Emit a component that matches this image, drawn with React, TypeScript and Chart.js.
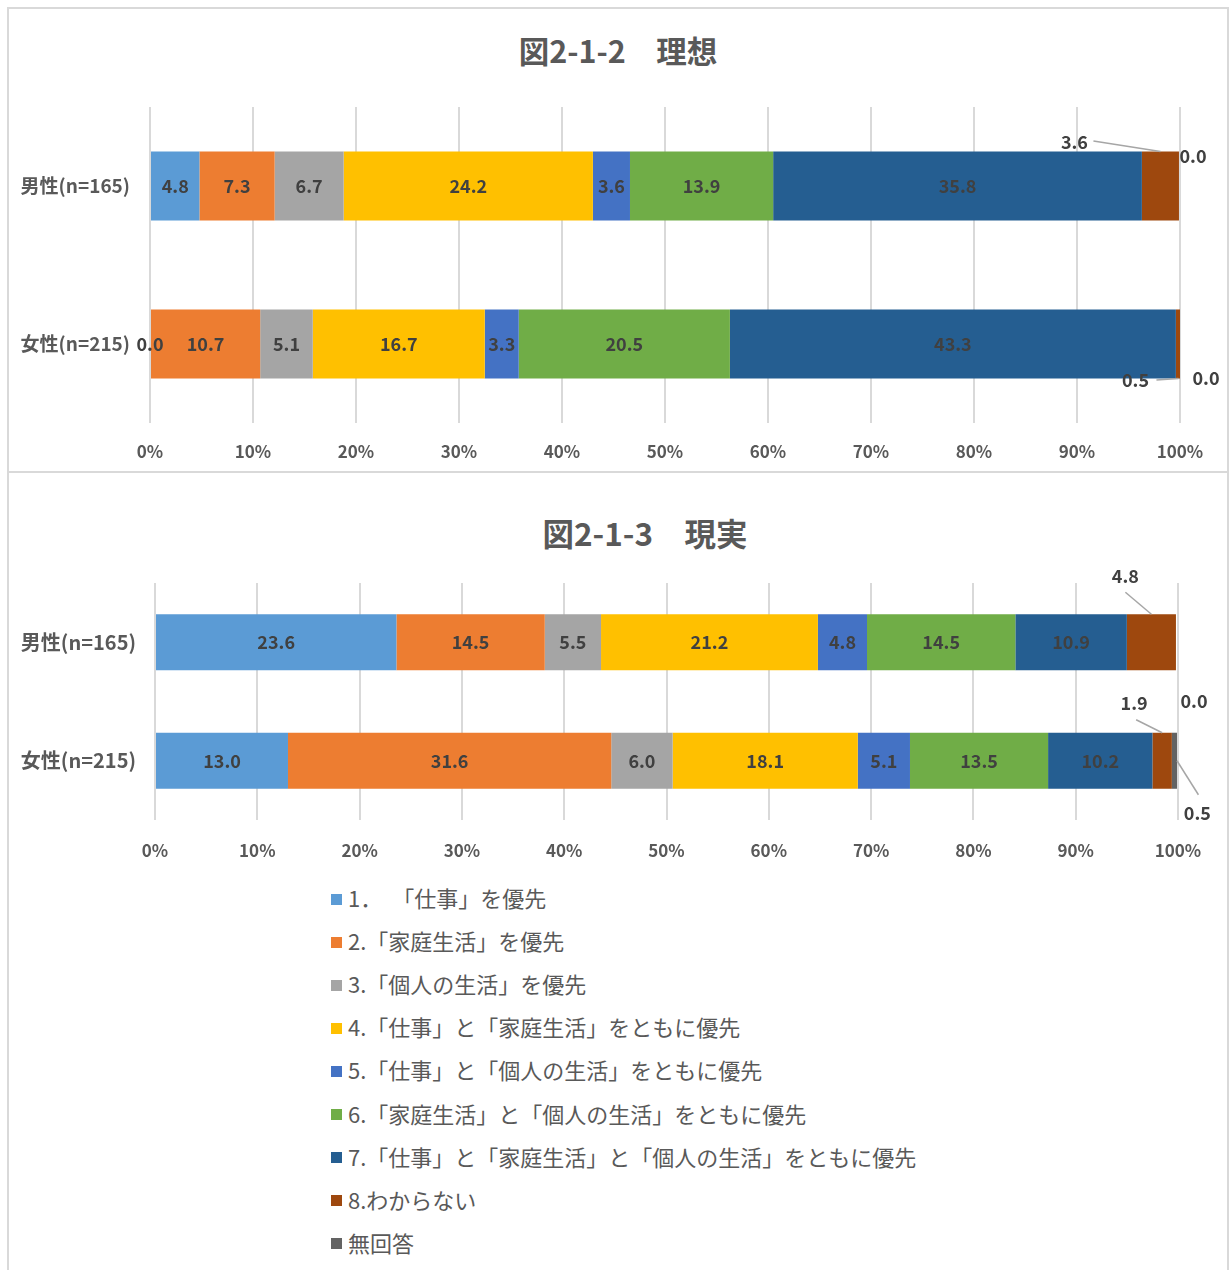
import React, { useEffect, useRef } from "react";
import { Chart, registerables } from "chart.js";
Chart.register(...registerables);

const FONT = "'Noto Sans CJK JP', 'Noto Sans', sans-serif";

const categories = ["男性(n=165)", "女性(n=215)"];
const seriesNames = [
  "1．「仕事」を優先",
  "2.「家庭生活」を優先",
  "3.「個人の生活」を優先",
  "4.「仕事」と「家庭生活」をともに優先",
  "5.「仕事」と「個人の生活」をともに優先",
  "6.「家庭生活」と「個人の生活」をともに優先",
  "7.「仕事」と「家庭生活」と「個人の生活」をともに優先",
  "8.わからない",
  "無回答",
];
const seriesColors = [
  "#5B9BD5",
  "#ED7D31",
  "#A5A5A5",
  "#FFC000",
  "#4472C4",
  "#70AD47",
  "#255E91",
  "#9E480E",
  "#636363",
];

// 図2-1-2 理想 (values per series, %)
const idealMale = [4.8, 7.3, 6.7, 24.2, 3.6, 13.9, 35.8, 3.6, 0.0];
const idealFemale = [0.0, 10.7, 5.1, 16.7, 3.3, 20.5, 43.3, 0.5, 0.0];
// 図2-1-3 現実
const realMale = [23.6, 14.5, 5.5, 21.2, 4.8, 14.5, 10.9, 4.8, 0.0];
const realFemale = [13.0, 31.6, 6.0, 18.1, 5.1, 13.5, 10.2, 1.9, 0.5];

const titleIdeal = "図2-1-2　理想";
const titleReal = "図2-1-3　現実";

// label placement styles (offsets from segment centre, key = series-category)
const idealCallouts = {
  "7-0": { dx: -86, dy: -44, line: { fx: 19, fy: -1, to: "top" } },
  "8-0": { dx: 14, dy: -30 },
  "7-1": { dx: -43, dy: 36, line: { fx: 21, fy: 0, to: "bottom" } },
  "8-1": { dx: 25, dy: 34 },
};
const realCallouts = {
  "7-0": { dx: -26, dy: -66, line: { fx: 0, fy: 16, to: "top" } },
  "8-0": { dx: 18, dy: 59 },
  "7-1": { dx: -28, dy: -58, line: { fx: 2, fy: 17, to: "top" } },
  "8-1": { dx: 23, dy: 52, line: { fx: 1, fy: -18, to: "right" } },
};

const segLabelPlugin = {
  id: "segLabels",
  afterDatasetsDraw(chart: any, _args: any, opts: any) {
    const ctx = chart.ctx;
    const callouts = (opts && opts.callouts) || {};
    ctx.save();
    ctx.font = `bold 18px ${FONT}`;
    ctx.fillStyle = "#404040";
    ctx.strokeStyle = "#A6A6A6";
    ctx.lineWidth = 1.5;
    ctx.textAlign = "center";
    ctx.textBaseline = "middle";
    chart.data.datasets.forEach((ds: any, di: number) => {
      const meta = chart.getDatasetMeta(di);
      meta.data.forEach((el: any, i: number) => {
        const v = ds.data[i];
        const p = el.getProps(["x", "y", "base", "height"], true);
        const left = Math.min(p.x, p.base);
        const right = Math.max(p.x, p.base);
        const cx = (left + right) / 2;
        let lx = cx;
        let ly = p.y;
        const c = callouts[`${di}-${i}`];
        if (c) {
          lx = cx + c.dx;
          ly = p.y + c.dy;
          if (c.line) {
            const tx = c.line.to === "right" ? right : cx;
            const ty =
              c.line.to === "top"
                ? p.y - p.height / 2
                : c.line.to === "bottom"
                ? p.y + p.height / 2
                : p.y;
            ctx.beginPath();
            ctx.moveTo(lx + c.line.fx, ly + c.line.fy);
            ctx.lineTo(tx, ty);
            ctx.stroke();
          }
        }
        ctx.fillText(Number(v).toFixed(1), lx, ly);
      });
    });
    ctx.restore();
  },
};

type Cfg = {
  male: number[];
  female: number[];
  callouts: any;
  width: number;
  height: number;
  yWidth: number;
  xHeight: number;
  padTop: number;
  padRight: number;
  barPct: number;
  yFont: number;
  yPad: number;
  xPad: number;
};

function StackChart(props: Cfg) {
  const ref = useRef<HTMLCanvasElement>(null);
  useEffect(() => {
    if (!ref.current) return;
    const datasets = seriesNames.map((name, i) => ({
      label: name,
      data: [props.male[i], props.female[i]],
      backgroundColor: seriesColors[i],
      borderWidth: 0,
      categoryPercentage: 1,
      barPercentage: props.barPct,
    }));
    const chart = new Chart(ref.current, {
      type: "bar",
      data: { labels: categories, datasets },
      plugins: [segLabelPlugin],
      options: {
        indexAxis: "y",
        animation: false,
        responsive: false,
        devicePixelRatio: 1,
        layout: {
          padding: { top: props.padTop, right: props.padRight, bottom: 0, left: 0 },
        },
        plugins: {
          legend: { display: false },
          title: { display: false },
          tooltip: { enabled: false },
          segLabels: { callouts: props.callouts },
        } as any,
        scales: {
          x: {
            stacked: true,
            min: 0,
            max: 100,
            ticks: {
              stepSize: 10,
              padding: props.xPad,
              color: "#595959",
              font: { family: FONT, size: 17, weight: "bold" },
              callback: (v: any) => `${v}%`,
            },
            grid: { color: "#D9D9D9", lineWidth: 2, drawTicks: false },
            border: { display: false },
            afterFit: (s: any) => {
              s.height = props.xHeight;
            },
          },
          y: {
            stacked: true,
            ticks: {
              padding: props.yPad,
              color: "#595959",
              font: { family: FONT, size: props.yFont, weight: "bold" },
            },
            grid: { display: false, drawTicks: false },
            border: { display: false },
            afterFit: (s: any) => {
              s.width = props.yWidth;
            },
          },
        } as any,
      },
    });
    return () => chart.destroy();
  }, []);
  return (
    <canvas
      ref={ref}
      width={props.width}
      height={props.height}
      style={{ display: "block", width: props.width, height: props.height }}
    />
  );
}

function LegendText({ name }: { name: string }) {
  const k = name.indexOf("．");
  if (k < 0) return <>{name}</>;
  return (
    <>
      {name.slice(0, k)}
      <span style={{ marginRight: 21 }}>．</span>
      {name.slice(k + 1)}
    </>
  );
}

export default function App() {
  const titleStyle = (cx: number, cy: number, size: number): React.CSSProperties => ({
    position: "absolute",
    left: cx - 300,
    width: 600,
    top: cy - 25,
    height: 50,
    lineHeight: "50px",
    textAlign: "center",
    fontFamily: FONT,
    fontWeight: 700,
    fontSize: size,
    color: "#595959",
    whiteSpace: "pre",
  });
  const legendTop = 899;
  const legendStep = 43.1;
  return (
    <div
      style={{
        position: "absolute",
        left: 0,
        top: 0,
        width: 1230,
        height: 1270,
        background: "#fff",
        overflow: "hidden",
        fontFamily: FONT,
      }}
    >
      <div
        style={{
          position: "absolute",
          left: 7,
          top: 7,
          width: 1222,
          height: 466,
          border: "2px solid #D9D9D9",
          boxSizing: "border-box",
        }}
      />
      <div
        style={{
          position: "absolute",
          left: 7,
          top: 471,
          width: 1222,
          height: 900,
          border: "2px solid #D9D9D9",
          boxSizing: "border-box",
        }}
      />
      <div style={titleStyle(618, 50, 30.5)}>{titleIdeal}</div>
      <div style={titleStyle(645, 532, 31.5)}>{titleReal}</div>
      <div style={{ position: "absolute", left: 8, top: 8 }}>
        <StackChart
          male={idealMale}
          female={idealFemale}
          callouts={idealCallouts}
          width={1220}
          height={464}
          yWidth={142}
          xHeight={49}
          padTop={99}
          padRight={48}
          barPct={0.437}
          yFont={19}
          yPad={20}
          xPad={18}
        />
      </div>
      <div style={{ position: "absolute", left: 8, top: 472 }}>
        <StackChart
          male={realMale}
          female={realFemale}
          callouts={realCallouts}
          width={1220}
          height={400}
          yWidth={147}
          xHeight={52}
          padTop={111}
          padRight={50}
          barPct={0.473}
          yFont={20}
          yPad={19}
          xPad={20}
        />
      </div>
      {seriesNames.map((name, i) => {
        const cy = legendTop + i * legendStep;
        return (
          <React.Fragment key={name}>
            <div
              style={{
                position: "absolute",
                left: 331,
                top: cy - 5.5,
                width: 11,
                height: 11,
                background: seriesColors[i],
              }}
            />
            <div
              style={{
                position: "absolute",
                left: 348,
                top: cy - 18,
                height: 32,
                lineHeight: "32px",
                fontSize: 22,
                color: "#595959",
                whiteSpace: "pre",
              }}
            >
              <LegendText name={name} />
            </div>
          </React.Fragment>
        );
      })}
    </div>
  );
}
